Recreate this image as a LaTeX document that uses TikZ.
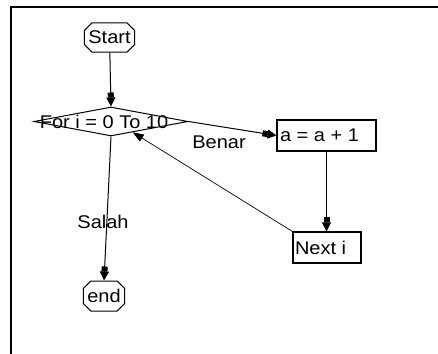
\documentclass[tikz,border=0pt]{standalone}
\usepackage{fontspec}
\setmainfont{Liberation Sans}
\usepackage{graphicx}
\usetikzlibrary{shapes.geometric,shapes.misc,arrows.meta,calc}
\newcommand\sqz[1]{\scalebox{1}[0.92]{#1}}
\begin{document}
\begin{tikzpicture}[x=1pt,y=-1pt,
  every node/.style={font=\fontsize{20}{22}\selectfont, inner sep=0pt},
  term/.style={chamfered rectangle, chamfered rectangle xsep=4pt, draw, line width=1pt},
  proc/.style={rectangle, draw, line width=1.1pt},
  decision/.style={diamond, draw, line width=1pt},
  flow/.style={line width=1pt, -{Square[length=5pt,width=6pt,sep=0pt]Triangle[length=9pt,width=9pt]}},
  back/.style={line width=0.7pt, -{Triangle[length=11pt,width=8pt]}},
  frame/.style={line width=1.8pt}]
\useasboundingbox (0,0) rectangle (438,353);
\draw[frame] (11,360) -- (11,7) -- (445,7);
\node[term,minimum width=47pt,minimum height=29pt] (start) at (109.5,37.5) {\sqz{Start}};
\node[decision,minimum width=154pt,minimum height=29pt] (loop) at (111,121.5) {};
\node (looptxt) at (104,121.5) {\sqz{For i = 0 To 10}};
\node[proc,minimum width=99pt,minimum height=31pt] (inc) at (326.5,135.5) {\makebox[93pt][l]{\sqz{a = a + 1}}};
\node[proc,minimum width=68pt,minimum height=31pt] (next) at (327,247.5) {\makebox[64pt][l]{\sqz{Next i}}};
\node[term,minimum width=40pt,minimum height=30pt] (end) at (104,296) {\sqz{end}};
\node (benar) at (219,142) {\sqz{Benar}};
\node (salah) at (103,222) {\sqz{Salah}};
\coordinate (backin) at ($(loop.south)!0.28!(loop.east)$);
\draw[flow] (start) -- (loop.north);
\draw[flow] (loop.east) -- (inc.west);
\draw[flow] (inc.south) -- (inc.south |- next.north);
\draw[back] (next.north west) -- (backin);
\draw[flow] (loop.south) -- (end.north);
\end{tikzpicture}
\end{document}
